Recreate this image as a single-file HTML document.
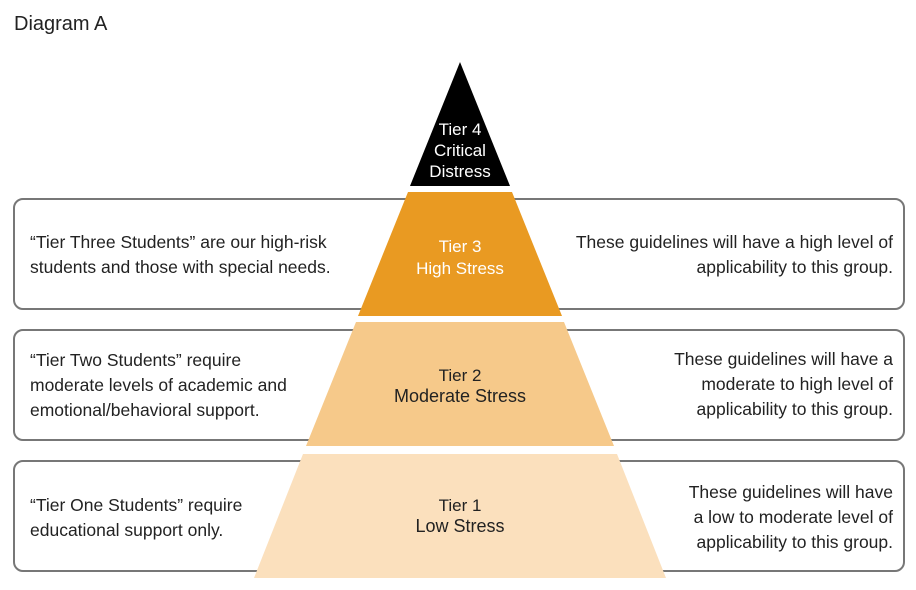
<!DOCTYPE html>
<html><head><meta charset="utf-8"><style>
body{margin:0;width:916px;height:590px;background:#fff;overflow:hidden;font-family:"Liberation Sans",sans-serif;}
svg{position:absolute;left:0;top:0}
</style></head><body>
<svg width="916" height="590" viewBox="0 0 916 590" font-family="Liberation Sans, sans-serif" font-size="17.5" fill="#222">
<text x="14" y="30" font-size="20" fill="#222">Diagram A</text>
<g fill="#fff" stroke="#777" stroke-width="2">
<rect x="14" y="199" width="890" height="110" rx="9"/>
<rect x="14" y="330" width="890" height="110" rx="9"/>
<rect x="14" y="461" width="890" height="110" rx="9"/>
</g>
<polygon points="460,62 510,186 410,186" fill="#000"/>
<polygon points="408,192 512,192 562,316 358,316" fill="#e99a22"/>
<polygon points="356,322 564,322 614,446 306,446" fill="#f6c98a"/>
<polygon points="303,454 617,454 666,578 254,578" fill="#fbe0bd"/>
<g text-anchor="middle" font-size="17">
<text x="460" y="135" fill="#fff">Tier 4</text>
<text x="460" y="156" fill="#fff">Critical</text>
<text x="460" y="177" fill="#fff">Distress</text>
<text x="460" y="252" fill="#fff">Tier 3</text>
<text x="460" y="274" fill="#fff">High Stress</text>
<text x="460" y="381" fill="#222">Tier 2</text>
<text x="460" y="402" fill="#222" font-size="18">Moderate Stress</text>
<text x="460" y="511" fill="#222">Tier 1</text>
<text x="460" y="532" fill="#222" font-size="18">Low Stress</text>
</g>
<g>
<text x="30" y="248">“Tier Three Students” are our high-risk</text>
<text x="30" y="273">students and those with special needs.</text>
<text x="30" y="366">“Tier Two Students” require</text>
<text x="30" y="391">moderate levels of academic and</text>
<text x="30" y="416">emotional/behavioral support.</text>
<text x="30" y="511">“Tier One Students” require</text>
<text x="30" y="536">educational support only.</text>
</g>
<g text-anchor="end">
<text x="893" y="248">These guidelines will have a high level of</text>
<text x="893" y="273">applicability to this group.</text>
<text x="893" y="365">These guidelines will have a</text>
<text x="893" y="390">moderate to high level of</text>
<text x="893" y="415">applicability to this group.</text>
<text x="893" y="498">These guidelines will have</text>
<text x="893" y="523">a low to moderate level of</text>
<text x="893" y="548">applicability to this group.</text>
</g>
</svg>
</body></html>
